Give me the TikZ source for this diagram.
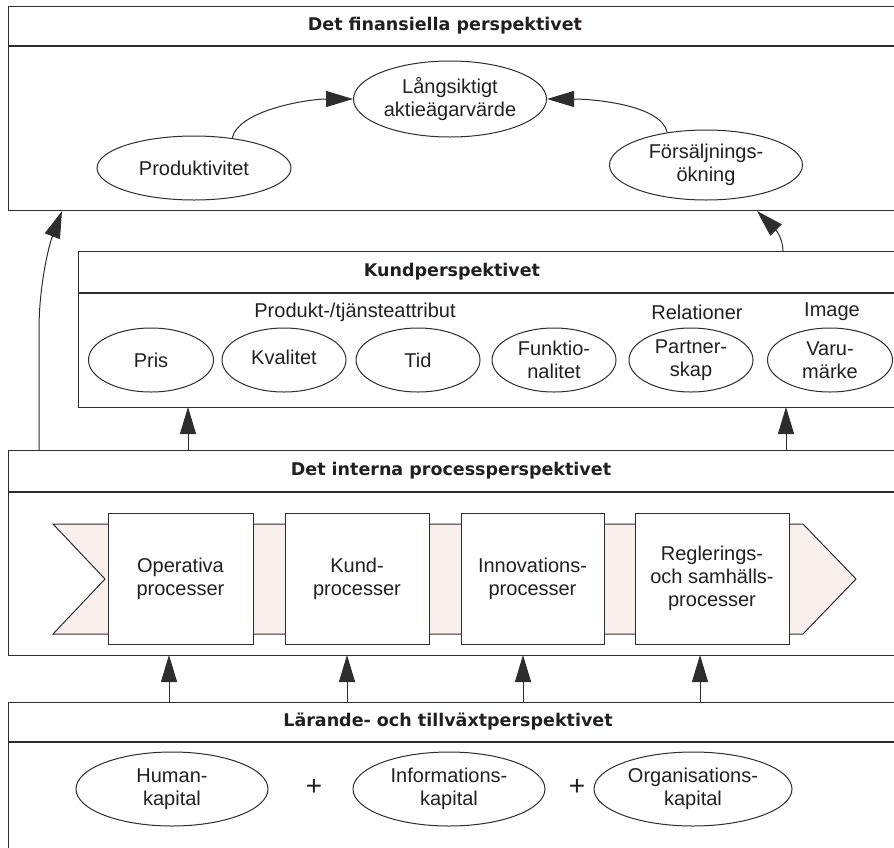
\documentclass[tikz,border=0pt]{standalone}
\usepackage{fontspec}
\setmainfont{Liberation Sans}
\newfontfamily\titlefont{DejaVu Sans}
\usetikzlibrary{arrows.meta,shapes.geometric}
\definecolor{bandfill}{RGB}{249,240,238}
\definecolor{inkc}{RGB}{35,31,32}
\definecolor{linec}{RGB}{45,45,45}
\begin{document}
\begin{tikzpicture}[x=1pt,y=-1pt,
  every node/.style={font=\fontsize{20}{23}\selectfont, text=inkc},
  panel/.style={draw=linec, line width=1.2pt, rectangle, inner sep=0pt, anchor=north west},
  headline/.style={draw=linec, line width=1.2pt},
  ptitle/.style={font=\titlefont\bfseries\fontsize{17.5}{20}\selectfont},
  ell/.style={draw=linec, line width=1pt, ellipse, inner sep=0pt, align=center},
  pbox/.style={draw=linec, fill=white, line width=1pt, rectangle, inner sep=0pt, align=center},
  plussign/.style={font=\fontsize{28}{28}\selectfont},
  arr/.style={draw=linec, line width=1pt, -{Triangle[length=27pt,width=16pt]}},
]
\useasboundingbox (0,0) rectangle (894,847);
\clip (0,0) rectangle (894,847);

% ---------- panels ----------
\node[panel, minimum width=900pt, minimum height=204pt] (fin) at (8,6) {};
\draw[headline] (8,46) -- (900,46);
\node[ptitle] (tfin) at (445,26) {Det finansiella perspektivet};

\node[panel, minimum width=830pt, minimum height=156pt] (kund) at (78,251) {};
\draw[headline] (78,293) -- (900,293);
\node[ptitle] (tkund) at (452,272) {Kundperspektivet};

\node[panel, minimum width=900pt, minimum height=205pt] (proc) at (8,450) {};
\draw[headline] (8,492) -- (900,492);
\node[ptitle] (tproc) at (451,471) {Det interna processperspektivet};

\node[panel, minimum width=900pt, minimum height=170pt] (lar) at (8,702) {};
\draw[headline] (8,742) -- (900,742);
\node[ptitle] (tlar) at (448,722) {Lärande- och tillväxtperspektivet};

% ---------- financial ----------
\node[ell, minimum width=193pt, minimum height=76pt] (lang) at (450,99) {Långsiktigt\\aktieägarvärde};
\node[ell, minimum width=194pt, minimum height=64pt] (prod) at (194,168) {Produktivitet};
\node[ell, minimum width=193pt, minimum height=70pt] (fors) at (706,165) {Försäljnings-\\ökning};
\draw[arr] (prod.38) .. controls +(6,-28) and +(-45,0) .. (lang.west);
\draw[arr] (fors.140) .. controls +(-6,-28) and +(45,0) .. (lang.east);

% ---------- customer ----------
\node (lprod) at (355,312) {Produkt-/tjänsteattribut};
\node (lrel) at (697,312) {Relationer};
\node (limg) at (832,312) {Image};
\node[ell, minimum width=125pt, minimum height=64pt] (pris) at (151,360) {Pris};
\node[ell, minimum width=124pt, minimum height=64pt] (kval) at (284,360) {\raisebox{6pt}{Kvalitet}};
\node[ell, minimum width=124pt, minimum height=64pt] (tid) at (418,360) {Tid};
\node[ell, minimum width=124pt, minimum height=64pt] (funk) at (554,360) {Funktio-\\nalitet};
\node[ell, minimum width=124pt, minimum height=64pt] (part) at (691,360) {Partner-\\skap};
\node[ell, minimum width=125pt, minimum height=64pt] (varu) at (830,360) {Varu-\\märke};

% ---------- internal processes ----------
\draw[draw=linec, line width=1pt, fill=bandfill] (53,524) -- (803,524) -- (856,579) -- (803,634) -- (53,634) -- (105,579) -- cycle;
\node[pbox, minimum width=145pt, minimum height=131pt] (op) at (180.5,578.5) {Operativa\\processer};
\node[pbox, minimum width=144pt, minimum height=131pt] (kp) at (357,578.5) {Kund-\\processer};
\node[pbox, minimum width=143pt, minimum height=131pt] (ip) at (532.5,578.5) {Innovations-\\processer};
\node[pbox, minimum width=154pt, minimum height=131pt] (rp) at (712,578.5) {Reglerings-\\och samhälls-\\processer};

% ---------- learning ----------
\node[ell, minimum width=192pt, minimum height=74pt] (hum) at (172,789) {Human-\\kapital};
\node[ell, minimum width=192pt, minimum height=74pt] (inf) at (449,789) {Informations-\\kapital};
\node[ell, minimum width=198pt, minimum height=74pt] (org) at (693,789) {Organisations-\\kapital};
\node[plussign] (plus1) at (314,787) {+};
\node[plussign] (plus2) at (577,787) {+};

% ---------- connector end points ----------
\coordinate (la0) at (39,450);  \coordinate (la1) at (62,211);
\coordinate (ra0) at (783,251); \coordinate (ra1) at (757,211);
\coordinate (ka0) at (188,450); \coordinate (ka1) at (188,407);
\coordinate (kb0) at (786,450); \coordinate (kb1) at (786,407);
\coordinate (b10) at (169,702); \coordinate (b11) at (169,655);
\coordinate (b20) at (347,702); \coordinate (b21) at (347,655);
\coordinate (b30) at (523,702); \coordinate (b31) at (523,655);
\coordinate (b40) at (700,702); \coordinate (b41) at (700,655);

\draw[arr] (la0) -- (39,330) .. controls (39,285) and (49,245) .. (la1);
\draw[arr] (ra0) .. controls (783,237) and (774,228) .. (ra1);
\draw[arr] (ka0) -- (ka1);
\draw[arr] (kb0) -- (kb1);
\draw[arr] (b10) -- (b11);
\draw[arr] (b20) -- (b21);
\draw[arr] (b30) -- (b31);
\draw[arr] (b40) -- (b41);
\end{tikzpicture}
\end{document}
